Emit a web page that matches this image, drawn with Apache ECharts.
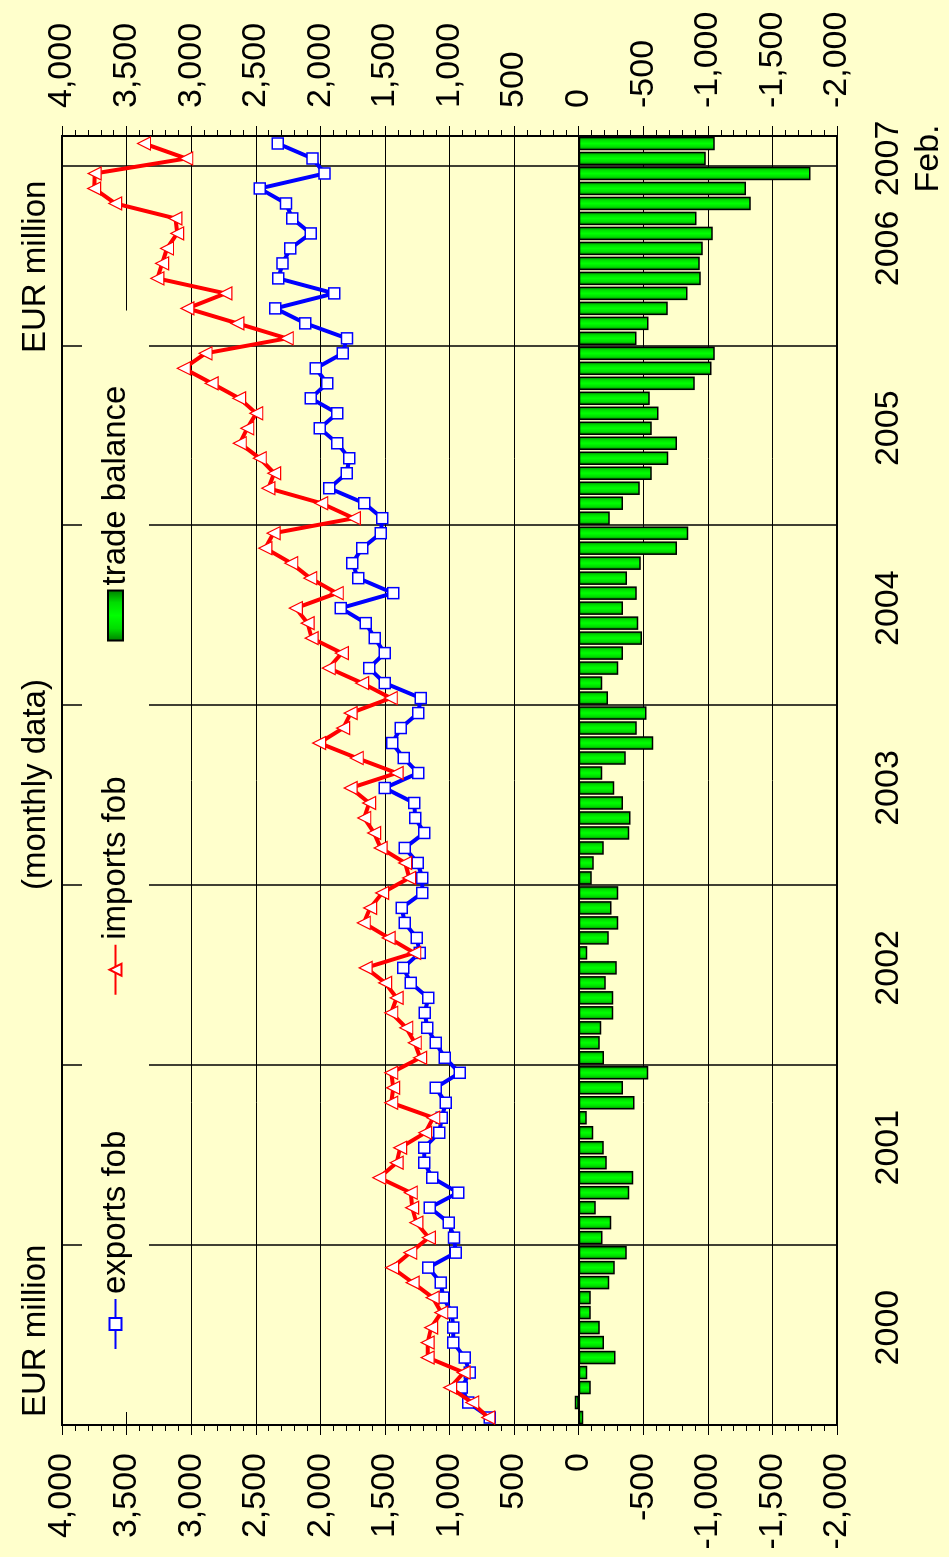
<!DOCTYPE html>
<html>
<head>
<meta charset="utf-8">
<title>Trade - monthly data</title>
<script src="https://cdn.jsdelivr.net/npm/echarts@6.0.0/dist/echarts.min.js"></script>
<style>
  html, body { margin: 0; padding: 0; background: #FFFFCC; width: 949px; height: 1557px; overflow: hidden; }
  /* the chart is drawn landscape and turned a quarter turn to the left */
  #chart { position: absolute; left: 0; top: 0; width: 1557px; height: 949px;
           transform-origin: 0 0; transform: translate(0, 1557px) rotate(-90deg); }
</style>
</head>
<body>
<div id="chart"></div>
<script>
// EUR million, Jan 2000 .. Feb 2007
const exportsFob = [
  689, 855, 906, 844, 882, 971, 971, 983, 1049, 1068, 1165, 952,
  965, 1005, 1153, 933, 1134, 1196, 1196, 1080, 1060, 1029, 1107, 921,
  1037, 1107, 1173, 1192, 1165, 1300, 1358, 1231, 1254, 1347, 1370, 1211,
  1211, 1246, 1347, 1196, 1265, 1273, 1502, 1242, 1355, 1444, 1378, 1242,
  1223, 1502, 1622, 1502, 1579, 1649, 1842, 1436, 1707, 1753, 1676, 1533,
  1521, 1660, 1931, 1796, 1776, 1869, 2005, 1869, 2074, 1947, 2036, 1827,
  1794, 2116, 2349, 1892, 2325, 2293, 2232, 2074, 2218, 2265, 2470, 1967,
  2060, 2330
];
const importsFob = [
  700, 824, 995, 890, 1169, 1169, 1142, 1064, 1130, 1285, 1444, 1304,
  1160, 1257, 1289, 1300, 1544, 1409, 1382, 1188, 1126, 1451, 1436, 1451,
  1227, 1269, 1335, 1451, 1409, 1498, 1649, 1273, 1471, 1664, 1614, 1521,
  1312, 1343, 1533, 1583, 1660, 1622, 1765, 1409, 1718, 2009, 1823, 1765,
  1455, 1676, 1935, 1834, 2067, 2098, 2190, 1873, 2078, 2225, 2426, 2362,
  1741, 1993, 2403, 2357, 2469, 2624, 2566, 2496, 2628, 2841, 3057, 2889,
  2260, 2642, 3029, 2735, 3262, 3225, 3187, 3108, 3122, 3588, 3751, 3747,
  3038, 3365
];
const tradeBalance = [
  -35, 31, -93, -66, -286, -197, -163, -93, -93, -236, -279, -372,
  -185, -252, -132, -391, -422, -217, -194, -112, -62, -433, -344, -538,
  -197, -163, -174, -267, -267, -209, -294, -66, -232, -306, -255, -306,
  -101, -116, -194, -391, -402, -344, -275, -182, -364, -577, -449, -526,
  -228, -182, -306, -344, -491, -461, -344, -449, -375, -480, -762, -848,
  -240, -344, -472, -565, -693, -762, -565, -619, -550, -898, -1029, -1053,
  -447, -541, -690, -843, -946, -937, -960, -1039, -913, -1333, -1295, -1794,
  -983, -1053
];
const yearLabels = ['2000', '2001', '2002', '2003', '2004', '2005', '2006'];
const lastLabel = '2007\nFeb.';

const months = [];
for (let y = 2000; months.length < exportsFob.length; y++) {
  for (let m = 1; m <= 12 && months.length < exportsFob.length; m++) {
    months.push(y + '-' + (m < 10 ? '0' + m : m));
  }
}
// year label sits in the middle of its year, the last one on Jan 2007
const labelAt = {};
yearLabels.forEach((y, k) => { labelAt[6 + 12 * k] = y; });
labelAt[84] = lastLabel;

const FONT = 'Liberation Sans, Arial, sans-serif';

const valueAxis = (pos, grid) => ({
  type: 'value',
  position: pos,
  min: -2000,
  max: 4000,
  interval: 500,
  axisLine: { show: true, lineStyle: { color: '#000', width: 2 } },
  axisTick: { show: true, length: 10, lineStyle: { color: '#000', width: 1 } },
  minorTick: { show: true, splitNumber: 5, length: 6, lineStyle: { color: '#000', width: 1 } },
  axisLabel: {
    color: '#000', fontSize: 34, fontFamily: FONT, margin: 28,
    formatter: v => v.toLocaleString('en-US')
  },
  splitLine: { show: grid, lineStyle: { color: '#000', width: 1 } },
  minorSplitLine: { show: false }
});

const chart = echarts.init(document.getElementById('chart'), null, { width: 1557, height: 949 });

chart.setOption({
  animation: false,
  backgroundColor: '#FFFFCC',
  textStyle: { fontFamily: FONT },
  title: [
    { text: 'EUR million', left: 140, top: 19, padding: 0,
      textStyle: { fontSize: 33, fontWeight: 'normal', color: '#000', fontFamily: FONT } },
    { text: '(monthly data)', left: 667, top: 19, padding: 0,
      textStyle: { fontSize: 33, fontWeight: 'normal', color: '#000', fontFamily: FONT } },
    { text: 'EUR million', left: 1204, top: 19, padding: 0,
      textStyle: { fontSize: 33, fontWeight: 'normal', color: '#000', fontFamily: FONT } }
  ],
  legend: {
    left: 145,
    top: 82,
    padding: [17, 75, 17, 62],
    itemGap: 135,
    itemWidth: 50,
    itemHeight: 15,
    backgroundColor: '#FFFFCC',
    textStyle: { fontSize: 33, color: '#000', fontFamily: FONT },
    data: [
      { name: 'exports fob' },
      { name: 'imports fob' },
      { name: 'trade balance', icon: 'rect' }
    ]
  },
  grid: {
    left: 132, right: 136, top: 62, bottom: 108,
    show: true, borderColor: '#000', borderWidth: 2, backgroundColor: 'transparent'
  },
  xAxis: {
    type: 'category',
    data: months,
    boundaryGap: true,
    axisLine: { show: true, lineStyle: { color: '#000', width: 2 } },
    axisTick: { show: false },
    axisLabel: {
      color: '#000', fontSize: 34, fontFamily: FONT, margin: 32, lineHeight: 40,
      interval: (i) => labelAt[i] !== undefined,
      formatter: (v, i) => labelAt[i] || ''
    },
    splitLine: {
      show: true,
      interval: (i) => i % 12 === 0,
      lineStyle: { color: '#000', width: 1.5 }
    }
  },
  yAxis: [valueAxis('left', true), valueAxis('right', false)],
  series: [
    {
      name: 'trade balance',
      type: 'bar',
      data: tradeBalance,
      barCategoryGap: '10%',
      itemStyle: {
        color: new echarts.graphic.LinearGradient(0, 0, 1, 0, [
          { offset: 0, color: '#007a00' },
          { offset: 0.25, color: '#00dd00' },
          { offset: 0.5, color: '#00ff00' },
          { offset: 0.75, color: '#00dd00' },
          { offset: 1, color: '#007a00' }
        ]),
        borderColor: '#000',
        borderWidth: 1.5
      }
    },
    {
      name: 'exports fob',
      type: 'line',
      data: exportsFob,
      symbol: 'rect',
      symbolSize: 11,
      showAllSymbol: true,
      lineStyle: { color: '#0000FF', width: 4 },
      itemStyle: { color: '#FFFFFF', borderColor: '#0000FF', borderWidth: 1.5 },
      z: 3
    },
    {
      name: 'imports fob',
      type: 'line',
      data: importsFob,
      symbol: 'triangle',
      symbolSize: 13,
      showAllSymbol: true,
      lineStyle: { color: '#FF0000', width: 4 },
      itemStyle: { color: '#FFFFFF', borderColor: '#FF0000', borderWidth: 1.2 },
      z: 4
    }
  ]
});
</script>
</body>
</html>
